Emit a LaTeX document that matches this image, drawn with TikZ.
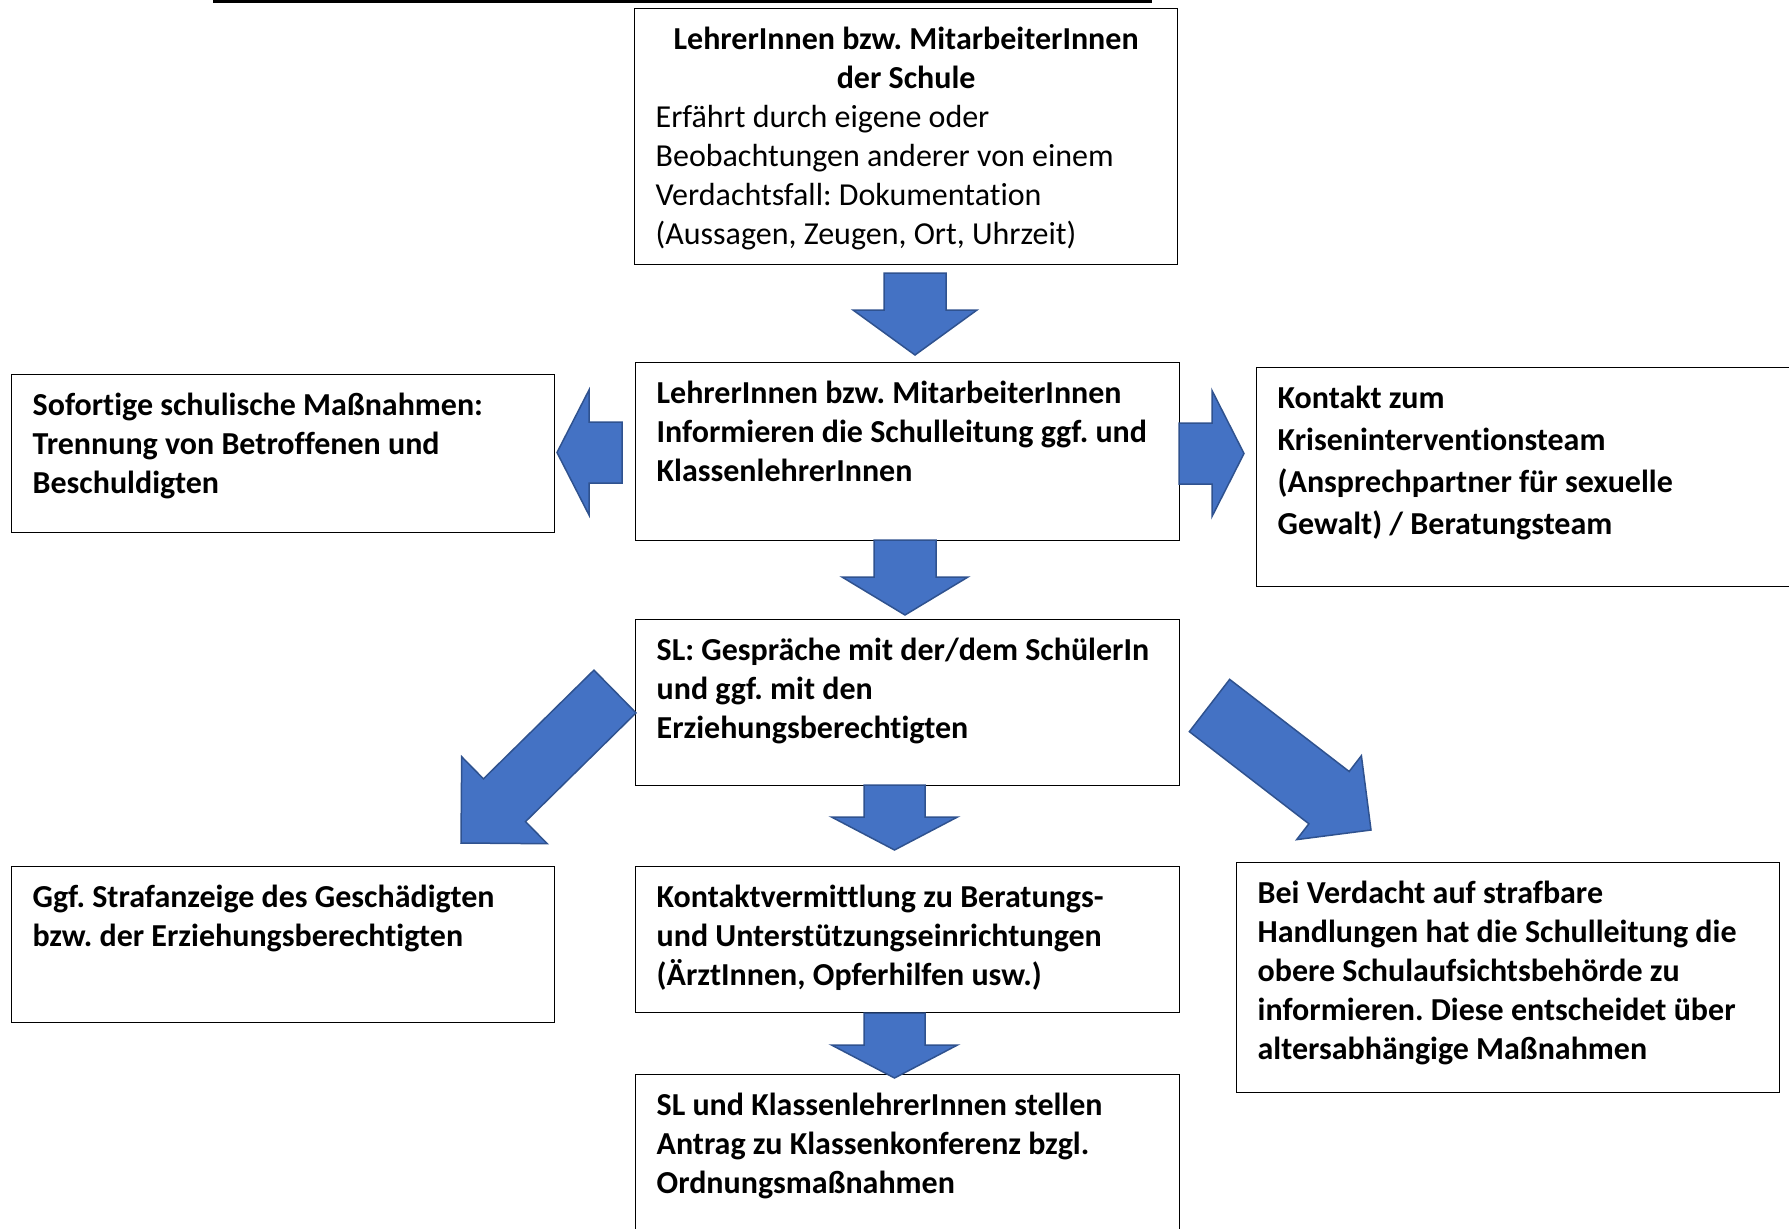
\documentclass[tikz,border=0pt]{standalone}
\usepackage{fontspec}
\setmainfont{Carlito}[Ligatures=NoCommon]
\usetikzlibrary{calc}
\frenchspacing

\definecolor{arrowblue}{HTML}{4472C4}
\definecolor{arrowedge}{HTML}{2F528F}

% text block of a box: width, height, text
\newcommand{\boxtext}[3]{\parbox[c][#2][t]{#1}{\raggedright\rule{0pt}{41pt}#3}}
% block arrow: tail, tip, shaft half width, head half width, head length
\newcommand{\blockarrow}[5]{%
  \coordinate (ha) at ($(#2)!#5!(#1)$);
  \filldraw[blockarrow] ($(#1)!#3!90:(#2)$) -- ($(ha)!#3!90:(#2)$) -- ($(ha)!#4!90:(#2)$) -- (#2)
    -- ($(ha)!#4!-90:(#2)$) -- ($(ha)!#3!-90:(#2)$) -- ($(#1)!#3!-90:(#2)$) -- cycle;
}

\begin{document}
\begin{tikzpicture}[x=1pt, y=-1pt,
  box/.style={draw, line width=1.3pt, anchor=north west, inner xsep=21pt, inner ysep=0pt,
    font=\fontsize{32}{38.9}\selectfont\bfseries},
  blockarrow/.style={fill=arrowblue, draw=arrowedge, line width=1.5pt, line join=miter}]
			\useasboundingbox (0,0) rectangle (1789,1229);
			
			% Underline of the cut-off heading
			\draw[line width=3pt] (213,1.5) -- (1152,1.5);
			
			% Boxes
			\node[box] (melden) at (634,8) {\boxtext{501pt}{256pt}{{\centering LehrerInnen bzw. MitarbeiterInnen\\der Schule\par}\mdseries Erfährt durch eigene oder\\Beobachtungen anderer von einem\\Verdachtsfall: Dokumentation\\(Aussagen, Zeugen, Ort, Uhrzeit)}};
			\node[box] (informieren) at (635,362) {\boxtext{502pt}{178pt}{LehrerInnen bzw. MitarbeiterInnen\\Informieren die Schulleitung ggf. und\\KlassenlehrerInnen}};
			\node[box] (sofort) at (11,374) {\boxtext{501pt}{158pt}{Sofortige schulische Maßnahmen:\\Trennung von Betroffenen und\\Beschuldigten}};
			\node[box] (krise) at (1256,367) {\boxtext{502pt}{219pt}{\fontsize{32}{42}\selectfont Kontakt zum\\Kriseninterventionsteam\\(Ansprechpartner für sexuelle\\Gewalt) / Beratungsteam}};
			\node[box] (gespraech) at (635,619) {\boxtext{502pt}{166pt}{SL: Gespräche mit der/dem SchülerIn\\und ggf. mit den\\Erziehungsberechtigten}};
			\node[box] (anzeige) at (11,866) {\boxtext{501pt}{156pt}{Ggf. Strafanzeige des Geschädigten\\bzw. der Erziehungsberechtigten}};
			\node[box] (vermittlung) at (635,866) {\boxtext{502pt}{146pt}{Kontaktvermittlung zu Beratungs-\\und Unterstützungseinrichtungen\\(ÄrztInnen, Opferhilfen usw.)}};
			\node[box] (aufsicht) at (1236,862) {\boxtext{501pt}{230pt}{Bei Verdacht auf strafbare\\Handlungen hat die Schulleitung die\\obere Schulaufsichtsbehörde zu\\informieren. Diese entscheidet über\\altersabhängige Maßnahmen}};
			\node[box] (antrag) at (635,1074) {\boxtext{502pt}{200pt}{SL und KlassenlehrerInnen stellen\\Antrag zu Klassenkonferenz bzgl.\\Ordnungsmaßnahmen}};
			
			% Arrow ends
			\coordinate (a1) at (915,273);    \coordinate (z1) at (915,355);
			\coordinate (a2) at (622,452.5);  \coordinate (z2) at (557,452.5);
			\coordinate (a3) at (1179,453.5); \coordinate (z3) at (1244,453.5);
			\coordinate (a4) at (905,540);    \coordinate (z4) at (905,615);
			\coordinate (a5) at (615,691.5);  \coordinate (z5) at (461,843);
			\coordinate (a6) at (1209.5,705.5); \coordinate (z6) at (1371,830);
			\coordinate (a7) at (894.5,785);  \coordinate (z7) at (894.5,850);
			\coordinate (a8) at (894.5,1013); \coordinate (z8) at (894.5,1078);
			
			% Arrows
			\blockarrow{a1}{z1}{31pt}{62pt}{45pt}
			\blockarrow{a2}{z2}{30.5pt}{62.5pt}{32pt}
			\blockarrow{a3}{z3}{30.5pt}{63pt}{32pt}
			\blockarrow{a4}{z4}{31pt}{63pt}{38pt}
			\blockarrow{a5}{z5}{30pt}{61pt}{61pt}
			\blockarrow{a6}{z6}{33pt}{53pt}{53pt}
			\blockarrow{a7}{z7}{30.5pt}{63pt}{33pt}
			\blockarrow{a8}{z8}{30.5pt}{63pt}{33pt}
		\end{tikzpicture}
\end{document}
